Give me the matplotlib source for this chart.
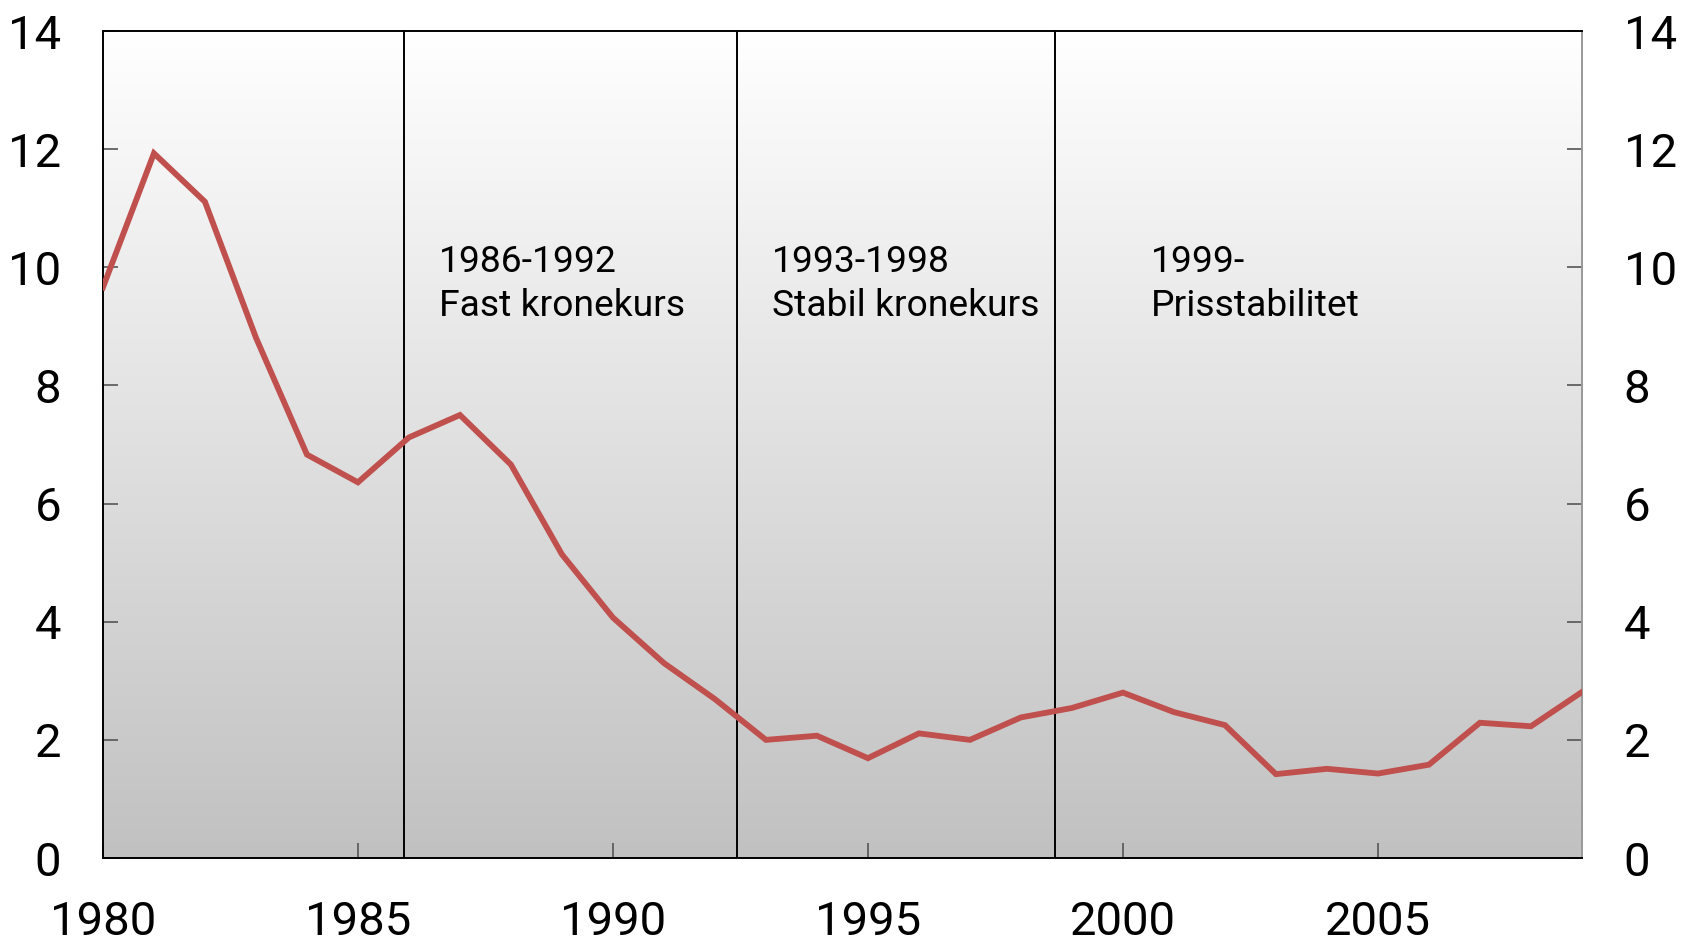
import numpy as np
import matplotlib
matplotlib.use('Agg')
import matplotlib.pyplot as plt
from matplotlib.colors import LinearSegmentedColormap

plt.rcParams['font.family'] = ['Roboto', 'DejaVu Sans']

# data
years = list(range(1980, 2010))
values = [9.66, 11.93, 11.11, 8.81, 6.83, 6.36, 7.12, 7.50, 6.66, 5.14,
          4.07, 3.30, 2.69, 2.00, 2.07, 1.69, 2.11, 2.00, 2.38, 2.54,
          2.80, 2.47, 2.25, 1.42, 1.51, 1.43, 1.58, 2.29, 2.23, 2.81]
regime_breaks = [1985.9, 1992.43, 1998.67]
regime_labels = ['1986-1992\nFast kronekurs', '1993-1998\nStabil kronekurs', '1999-\nPrisstabilitet']
label_x = [1986.58, 1993.12, 2000.54]
yticks = [0, 2, 4, 6, 8, 10, 12, 14]
xticks = [1980, 1985, 1990, 1995, 2000, 2005]

fig = plt.figure(figsize=(16.82, 9.41), dpi=100)
ax = fig.add_axes([0.0612, 0.0882, 0.8793, 0.8788])

# gray gradient background
cmap = LinearSegmentedColormap.from_list('bg', ['#c1c1c1', '#ffffff'])
grad = np.linspace(0, 1, 256).reshape(-1, 1)
ax.imshow(grad, extent=[1980, 2009, 0, 14], origin='lower', aspect='auto', cmap=cmap, zorder=0)

ax.plot(years, values, color='#c0504d', lw=4.2, zorder=3, solid_joinstyle='miter')
for b in regime_breaks:
    ax.axvline(b, color='black', lw=1.4, zorder=2)
for x, t in zip(label_x, regime_labels):
    ax.text(x, 10.4, t, fontsize=26.8, fontweight='normal', va='top', ha='left',
            linespacing=1.3, zorder=4)

ax.set_xlim(1980, 2009)
ax.set_ylim(0, 14)
ax.set_yticks(yticks)
ax.set_xticks(xticks)
ax.tick_params(axis='y', direction='in', length=11, width=1.2, color='#555555',
               labelsize=34, pad=30, right=True, labelright=True)
ax.tick_params(axis='x', direction='in', length=11, width=1.2, color='#555555',
               labelsize=34, pad=30)
for s in ['left', 'bottom', 'top']:
    ax.spines[s].set_color('black')
    ax.spines[s].set_linewidth(1.4)
ax.spines['right'].set_color('#999999')
ax.spines['right'].set_linewidth(1.4)

plt.savefig('out.png', dpi=100)
